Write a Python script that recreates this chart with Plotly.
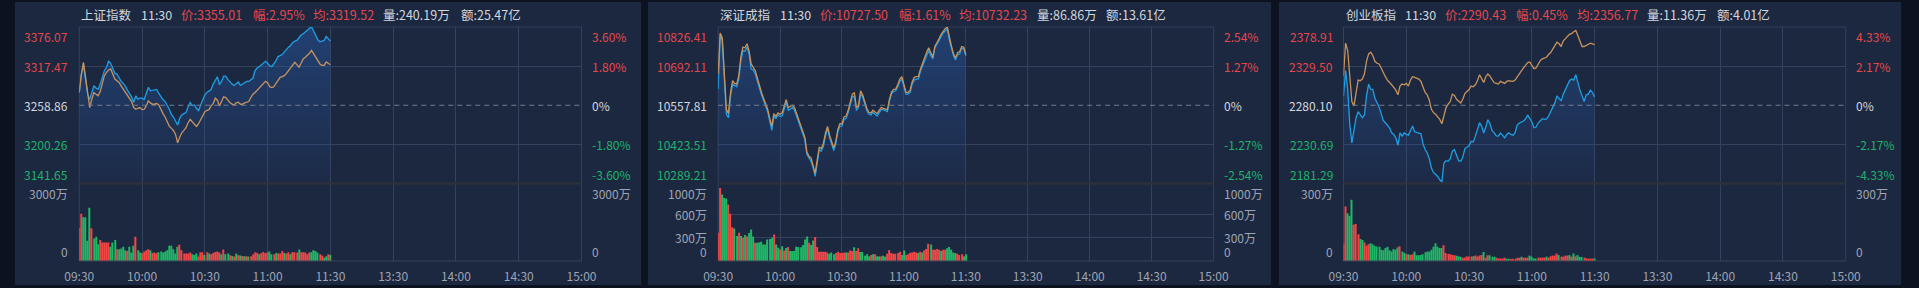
import plotly.graph_objects as go

# ---------------- data ----------------
minutes = list(range(121))  # 09:30 .. 11:30, one point per minute
x_tickvals = [0, 30, 60, 90, 120, 150, 180, 210, 240]
x_ticktext = ["09:30", "10:00", "10:30", "11:00", "11:30", "13:30", "14:00", "14:30", "15:00"]

# ---- 上证指数 ----
p1_name = "上证指数"
p1_time = "11:30"
p1_info_red = ["价:3355.01", "幅:2.95%", "均:3319.52"]
p1_info_white = ["量:240.19万", "额:25.47亿"]
p1_left = ["3376.07", "3317.47", "3258.86", "3200.26", "3141.65"]
p1_right = ["3.60%", "1.80%", "0%", "-1.80%", "-3.60%"]
p1_vol_ticks = [3000, 0]
p1_vol_text = ["3000万", "0"]
p1_price = [
    3277.97, 3305.64, 3319.72, 3295.58, 3275.46, 3267.91, 3277.97, 3288.03, 3284.51, 3283.00,
    3290.55, 3300.61, 3310.67, 3315.70, 3324.75, 3321.74, 3313.18, 3306.65, 3305.64, 3299.60,
    3294.57, 3291.56, 3287.53, 3281.50, 3276.47, 3271.44, 3262.88, 3272.94, 3267.91, 3269.42,
    3269.42, 3267.41, 3276.47, 3285.52, 3280.49, 3281.50, 3282.50, 3282.50, 3276.47, 3271.44,
    3267.41, 3264.39, 3259.36, 3252.82, 3245.28, 3241.25, 3235.22, 3229.18, 3239.24, 3244.27,
    3246.28, 3247.79, 3256.34, 3262.88, 3258.36, 3259.36, 3254.33, 3250.31, 3259.36, 3267.41,
    3274.45, 3277.97, 3280.49, 3282.50, 3290.55, 3296.59, 3301.62, 3289.54, 3294.57, 3302.62,
    3302.62, 3297.59, 3293.57, 3290.55, 3288.54, 3291.56, 3293.57, 3288.54, 3290.55, 3293.57,
    3294.57, 3294.57, 3296.59, 3299.60, 3310.67, 3314.69, 3316.71, 3319.72, 3321.74, 3324.75,
    3321.74, 3317.71, 3316.71, 3320.73, 3325.76, 3331.80, 3333.30, 3334.81, 3338.84, 3342.86,
    3345.88, 3348.39, 3352.92, 3354.93, 3355.94, 3359.96, 3363.99, 3366.00, 3368.01, 3371.03,
    3374.05, 3376.06, 3370.02, 3361.98, 3356.95, 3353.93, 3354.93, 3355.94, 3361.98, 3358.96,
    3355.01]
p1_avg = [
    3277.97, 3305.64, 3323.24, 3300.61, 3270.43, 3255.34, 3267.91, 3277.97, 3275.46, 3272.94,
    3279.48, 3293.06, 3303.12, 3308.15, 3311.68, 3313.18, 3306.65, 3298.09, 3295.58, 3293.06,
    3288.03, 3283.00, 3277.97, 3272.94, 3269.42, 3264.39, 3255.34, 3252.82, 3254.33, 3255.34,
    3252.32, 3252.82, 3257.85, 3265.40, 3262.38, 3260.37, 3260.37, 3261.38, 3259.36, 3251.31,
    3246.28, 3241.25, 3235.22, 3227.67, 3224.15, 3221.13, 3215.10, 3202.52, 3211.07, 3217.61,
    3221.13, 3225.16, 3232.70, 3237.73, 3234.21, 3230.19, 3227.17, 3231.19, 3237.73, 3245.28,
    3249.30, 3251.31, 3252.32, 3257.85, 3261.38, 3269.42, 3266.41, 3257.85, 3264.39, 3271.44,
    3270.43, 3266.41, 3262.88, 3260.37, 3259.36, 3262.38, 3263.39, 3260.37, 3260.37, 3262.38,
    3263.39, 3264.39, 3270.43, 3275.46, 3277.97, 3281.50, 3284.51, 3287.53, 3290.55, 3294.57,
    3292.56, 3286.53, 3285.52, 3286.53, 3291.56, 3296.59, 3300.61, 3301.62, 3303.12, 3306.65,
    3310.67, 3314.69, 3319.72, 3323.24, 3319.72, 3315.70, 3321.74, 3328.27, 3330.79, 3333.30,
    3336.83, 3340.85, 3335.82, 3329.78, 3324.75, 3320.73, 3318.72, 3318.72, 3323.75, 3321.74,
    3319.52]
p1_vol = [
    1278, 1826, 1695, 1695, 782, 2060, 1265, 874, 939, 652,
    809, 717, 717, 717, 717, 548, 717, 809, 456, 456,
    483, 548, 417, 391, 548, 326, 587, 939, 417, 326,
    300, 365, 417, 456, 417, 313, 326, 300, 339, 365,
    326, 365, 417, 587, 587, 456, 287, 548, 626, 417,
    287, 287, 287, 326, 261, 235, 287, 170, 339, 339,
    235, 339, 287, 261, 313, 352, 365, 326, 261, 443,
    261, 287, 222, 196, 170, 287, 222, 209, 196, 183,
    183, 170, 183, 261, 339, 313, 261, 300, 352, 300,
    326, 365, 261, 261, 313, 287, 287, 391, 313, 287,
    339, 261, 339, 339, 326, 443, 339, 339, 326, 261,
    326, 339, 417, 391, 326, 261, 209, 130, 183, 261,
    235]
p1_dir = ("rrggggrggg" "rrrrrgggrg" "gggrgggrgg" "rrrrgrrrgg" "ggggggggrr" "rrrrgggrrr"
          "grgrrrrrgr" "ggrgrgrgrg" "rgrrrrgrrr" "rggrgrrrgr" "rgrrrgrrrr" "rggggrrggr" "g")

# ---- 深证成指 ----
p2_name = "深证成指"
p2_time = "11:30"
p2_info_red = ["价:10727.50", "幅:1.61%", "均:10732.23"]
p2_info_white = ["量:86.86万", "额:13.61亿"]
p2_left = ["10826.41", "10692.11", "10557.81", "10423.51", "10289.21"]
p2_right = ["2.54%", "1.27%", "0%", "-1.27%", "-2.54%"]
p2_vol_ticks = [1000, 600, 300, 0]
p2_vol_text = ["1000万", "600万", "300万", "0"]
p2_price = [
    10613.15, 10797.63, 10780.34, 10653.51, 10526.68, 10515.15, 10590.09, 10630.45, 10624.68, 10621.23,
    10647.74, 10711.16, 10745.75, 10743.44, 10757.28, 10734.22, 10682.33, 10678.88, 10665.04, 10639.67,
    10613.15, 10593.55, 10575.11, 10552.04, 10535.90, 10503.62, 10471.33, 10520.91, 10512.84, 10524.37,
    10519.76, 10520.91, 10543.97, 10567.03, 10540.51, 10543.97, 10549.74, 10540.51, 10520.91, 10494.39,
    10478.25, 10459.80, 10440.20, 10388.32, 10374.48, 10365.26, 10344.50, 10313.37, 10359.49, 10405.61,
    10399.85, 10417.14, 10451.73, 10478.25, 10445.97, 10422.91, 10402.15, 10425.21, 10466.72, 10486.32,
    10486.32, 10509.38, 10512.84, 10532.44, 10561.27, 10586.64, 10590.09, 10540.51, 10549.74, 10595.86,
    10586.64, 10561.27, 10540.51, 10526.68, 10524.37, 10533.60, 10526.68, 10520.91, 10532.44, 10542.82,
    10542.82, 10538.21, 10535.90, 10572.80, 10598.17, 10605.08, 10607.39, 10621.23, 10639.67, 10647.74,
    10618.92, 10595.86, 10595.86, 10601.62, 10630.45, 10644.29, 10647.74, 10647.74, 10674.26, 10693.86,
    10708.85, 10731.91, 10745.75, 10728.45, 10716.92, 10754.97, 10768.81, 10780.34, 10791.87, 10805.71,
    10812.62, 10820.69, 10782.65, 10754.97, 10728.45, 10713.47, 10731.91, 10734.22, 10754.97, 10751.51,
    10727.50]
p2_avg = [
    10665.04, 10805.71, 10789.56, 10665.04, 10543.97, 10528.98, 10601.62, 10641.98, 10632.76, 10630.45,
    10659.27, 10722.69, 10757.28, 10754.97, 10768.81, 10743.44, 10699.63, 10688.10, 10676.57, 10651.20,
    10624.68, 10601.62, 10582.02, 10561.27, 10543.97, 10512.84, 10486.32, 10528.98, 10519.76, 10531.29,
    10526.68, 10531.29, 10554.35, 10577.41, 10549.74, 10554.35, 10557.81, 10549.74, 10528.98, 10503.62,
    10485.17, 10466.72, 10448.27, 10397.54, 10382.55, 10376.79, 10353.73, 10323.75, 10371.02, 10413.68,
    10409.07, 10427.52, 10462.11, 10485.17, 10455.19, 10432.13, 10411.38, 10434.44, 10474.79, 10494.39,
    10494.39, 10517.45, 10520.91, 10540.51, 10570.49, 10595.86, 10600.47, 10549.74, 10556.66, 10607.39,
    10593.55, 10568.19, 10547.43, 10533.60, 10531.29, 10540.51, 10533.60, 10528.98, 10540.51, 10549.74,
    10547.43, 10543.97, 10542.82, 10578.56, 10602.78, 10612.00, 10613.15, 10628.14, 10647.74, 10655.82,
    10628.14, 10602.78, 10601.62, 10609.70, 10637.37, 10653.51, 10655.82, 10655.82, 10681.18, 10701.94,
    10716.92, 10739.98, 10754.97, 10738.83, 10722.69, 10759.59, 10775.73, 10786.10, 10801.09, 10812.62,
    10820.69, 10826.46, 10789.56, 10761.89, 10734.22, 10720.38, 10738.83, 10741.14, 10759.59, 10757.28,
    10732.23]
p2_vol = [
    364, 943, 857, 814, 806, 729, 609, 437, 420, 321,
    364, 321, 300, 334, 317, 360, 407, 317, 236, 236,
    240, 249, 214, 214, 279, 283, 300, 343, 214, 171,
    150, 189, 137, 167, 180, 129, 129, 129, 184, 180,
    176, 206, 279, 317, 236, 206, 266, 309, 180, 120,
    120, 120, 120, 111, 94, 111, 86, 103, 120, 103,
    103, 111, 111, 111, 137, 129, 176, 129, 163, 116,
    116, 69, 86, 60, 77, 86, 86, 60, 60, 60,
    69, 56, 94, 141, 103, 94, 94, 103, 120, 77,
    137, 77, 86, 107, 111, 120, 111, 103, 120, 111,
    137, 154, 223, 214, 146, 146, 154, 146, 129, 146,
    146, 163, 180, 146, 111, 103, 94, 77, 86, 60,
    86]
p2_dir = ("rrgggrrrgg" "rgrgrgggrg" "gggggggrgg" "rgrgrggggg" "ggggrggrrr" "rrrrgggrrr"
          "rrgrrrgrrg" "ggggrgrggr" "ggrrrrrrrg" "grrrrrrgrg" "rrrgrrrrgr" "rgggggrrrg" "g")

# ---- 创业板指 ----
p3_name = "创业板指"
p3_time = "11:30"
p3_info_red = ["价:2290.43", "幅:0.45%", "均:2356.77"]
p3_info_white = ["量:11.36万", "额:4.01亿"]
p3_left = ["2378.91", "2329.50", "2280.10", "2230.69", "2181.29"]
p3_right = ["4.33%", "2.17%", "0%", "-2.17%", "-4.33%"]
p3_vol_ticks = [300, 0]
p3_vol_text = ["300万", "0"]
p3_price = [
    2291.97, 2323.77, 2300.45, 2255.93, 2232.61, 2249.57, 2264.41, 2272.04, 2268.65, 2264.41,
    2267.80, 2291.97, 2306.81, 2300.45, 2300.03, 2289.00, 2283.49, 2277.98, 2269.50, 2261.02,
    2258.05, 2255.08, 2251.69, 2245.33, 2243.21, 2238.97, 2229.64, 2245.33, 2241.09, 2245.33,
    2243.21, 2242.36, 2248.30, 2253.81, 2246.60, 2245.33, 2244.91, 2244.06, 2231.34, 2224.13,
    2219.89, 2212.68, 2200.81, 2195.30, 2193.18, 2190.21, 2185.97, 2183.00, 2207.17, 2210.14,
    2209.29, 2212.68, 2222.01, 2224.13, 2216.92, 2210.14, 2209.29, 2214.38, 2225.40, 2227.10,
    2228.80, 2234.73, 2233.88, 2241.09, 2250.84, 2258.05, 2253.81, 2244.91, 2252.54, 2261.87,
    2256.78, 2248.30, 2245.33, 2241.52, 2241.09, 2244.91, 2242.36, 2238.97, 2243.21, 2245.33,
    2243.21, 2242.36, 2245.33, 2255.08, 2257.63, 2258.48, 2260.17, 2262.72, 2267.80, 2263.56,
    2259.32, 2251.69, 2252.54, 2257.63, 2261.02, 2263.14, 2262.29, 2262.72, 2266.53, 2272.04,
    2279.25, 2283.07, 2291.97, 2289.00, 2285.61, 2294.09, 2300.03, 2304.69, 2311.05, 2313.17,
    2311.90, 2318.68, 2307.66, 2299.18, 2291.97, 2284.76, 2293.24, 2294.09, 2299.18, 2296.21,
    2290.43]
p3_avg = [
    2317.41, 2358.54, 2349.21, 2315.29, 2284.76, 2279.25, 2298.33, 2311.90, 2311.05, 2313.17,
    2319.53, 2335.64, 2344.97, 2347.09, 2342.85, 2335.64, 2333.10, 2332.25, 2327.16, 2320.38,
    2316.14, 2311.90, 2309.36, 2305.96, 2302.57, 2299.18, 2293.24, 2304.27, 2306.81, 2305.96,
    2307.66, 2304.27, 2311.90, 2316.14, 2315.29, 2314.44, 2313.17, 2310.20, 2302.57, 2296.21,
    2293.24, 2286.46, 2275.01, 2270.77, 2268.65, 2266.11, 2262.29, 2256.78, 2266.53, 2277.13,
    2281.37, 2284.76, 2294.09, 2292.40, 2287.73, 2284.76, 2283.07, 2287.73, 2294.94, 2297.48,
    2300.03, 2304.27, 2303.42, 2305.96, 2311.05, 2318.68, 2314.44, 2308.93, 2316.14, 2319.53,
    2316.99, 2312.75, 2308.51, 2307.66, 2306.81, 2310.20, 2309.36, 2307.66, 2310.20, 2311.05,
    2310.63, 2310.20, 2311.90, 2316.14, 2320.38, 2323.77, 2327.16, 2330.56, 2333.95, 2334.80,
    2329.71, 2326.32, 2327.16, 2331.40, 2336.49, 2338.61, 2339.88, 2340.73, 2344.12, 2346.67,
    2350.91, 2355.57, 2359.81, 2357.69, 2354.30, 2361.08, 2364.48, 2367.02, 2369.56, 2370.41,
    2372.96, 2374.65, 2367.87, 2361.08, 2354.30, 2354.30, 2356.00, 2357.69, 2358.54, 2357.69,
    2356.77]
p3_vol = [
    68, 211, 185, 175, 237, 140, 143, 104, 85, 81,
    72, 59, 65, 69, 65, 59, 56, 55, 44, 42,
    50, 55, 42, 37, 46, 44, 52, 57, 37, 31,
    26, 26, 23, 26, 37, 22, 22, 23, 26, 34,
    37, 37, 44, 55, 69, 55, 50, 50, 61, 31,
    27, 26, 23, 22, 20, 18, 16, 13, 13, 17,
    17, 17, 18, 21, 17, 21, 23, 35, 13, 22,
    22, 16, 16, 13, 10, 10, 10, 13, 9, 9,
    8, 9, 9, 13, 13, 16, 13, 13, 13, 21,
    17, 10, 10, 13, 13, 13, 13, 17, 13, 18,
    21, 21, 29, 23, 17, 17, 21, 21, 23, 17,
    29, 18, 23, 16, 16, 13, 10, 9, 9, 9,
    10]
p3_dir = ("rrgggrrrgg" "rrrggggggg" "gggggggrgg" "rgrrgggggg" "ggggggggrr" "rrrrgggrrr"
          "rrgrrrrgrr" "gggrrrrrgg" "rrrrrgrrrg" "gggrrrrgrr" "rrrgrrrrgr" "grgggrrrrr" "g")

# ---------------- style / layout ----------------
W, H = 1919, 288
BG_OUT = "#0c1220"
BG_PANEL = "#1c2740"
GRID = "#33415b"
SEP = "#2c313c"
BLUE = "#1e9fe4"
ORANGE = "#c8935c"
UP = "#f04646"
DOWN = "#1fb866"
TXT = "#d3d7df"
TXT_RED = "#e5484b"
TXT_GREEN = "#1fb36c"
TXT_GRAY = "#9ea5b3"
FONT = "Noto Sans CJK SC, Noto Sans, sans-serif"

PRICE_TOP, PRICE_BOT = 27, 183.5
VOL_TOP, VOL_BOT = 183.5, 261
PANEL_TOP, PANEL_BOT = 2, 285
TITLE_Y = 14

panels = [
    dict(name=p1_name, time=p1_time, red=p1_info_red, white=p1_info_white, left=p1_left, right=p1_right,
         vt=p1_vol_ticks, vtx=p1_vol_text, price=p1_price, avg=p1_avg, vol=p1_vol, dirs=p1_dir,
         box=(0, 636), plot=(65.3, 575.5),
         title_dx=[0, 60.4, 101.2, 174.3, 235.1, 306.9, 385.3]),
    dict(name=p2_name, time=p2_time, red=p2_info_red, white=p2_info_white, left=p2_left, right=p2_right,
         vt=p2_vol_ticks, vtx=p2_vol_text, price=p2_price, avg=p2_avg, vol=p2_vol, dirs=p2_dir,
         box=(643, 1276), plot=(714.3, 1217.6),
         title_dx=[0, 60.4, 101.2, 181.6, 242.4, 322.4, 392.2]),
    dict(name=p3_name, time=p3_time, red=p3_info_red, white=p3_info_white, left=p3_left, right=p3_right,
         vt=p3_vol_ticks, vtx=p3_vol_text, price=p3_price, avg=p3_avg, vol=p3_vol, dirs=p3_dir,
         box=(1284, 1916), plot=(1349.6, 1859.8),
         title_dx=[0, 60.0, 100.8, 173.5, 234.7, 306.5, 377.6]),
]


def fx(px):
    return px / W


def fy(py):
    return 1 - py / H


def sfx(n):
    return "" if n == 1 else str(n)


fig = go.Figure()
layout = dict(
    width=W, height=H, margin=dict(l=0, r=0, t=0, b=0),
    paper_bgcolor=BG_OUT, plot_bgcolor="rgba(0,0,0,0)",
    showlegend=False, font=dict(family=FONT, size=12, color=TXT_GRAY),
    hovermode=False,
)
shapes = []
annotations = []

for k, p in enumerate(panels):
    na, nv = 2 * k + 1, 2 * k + 2
    xa, ya = "x" + sfx(na), "y" + sfx(na)
    xv, yv = "x" + sfx(nv), "y" + sfx(nv)
    levels = [float(v) for v in p["left"]]
    ytop, ybase, ybot = levels[0], levels[2], levels[-1]
    xdom = [fx(p["plot"][0]), fx(p["plot"][1])]

    # panel background
    shapes.append(dict(type="rect", xref="paper", yref="paper", layer="below",
                       x0=fx(p["box"][0]), x1=fx(p["box"][1]), y0=fy(PANEL_BOT), y1=fy(PANEL_TOP),
                       fillcolor=BG_PANEL, line=dict(width=0)))

    # price + average lines
    fig.add_trace(go.Scatter(
        x=minutes, y=p["price"], mode="lines", xaxis=xa, yaxis=ya,
        line=dict(color=BLUE, width=1.3), fill="tozeroy",
        fillgradient=dict(type="vertical",
                          colorscale=[[0, "rgba(40,95,175,0.06)"], [1, "rgba(40,95,175,0.45)"]],
                          start=ybot, stop=ytop)))
    fig.add_trace(go.Scatter(
        x=minutes, y=p["avg"], mode="lines", xaxis=xa, yaxis=ya,
        line=dict(color=ORANGE, width=1.3)))

    # volume bars
    fig.add_trace(go.Bar(
        x=minutes, y=p["vol"], xaxis=xv, yaxis=yv, width=0.55,
        marker=dict(color=[UP if d == "r" else DOWN for d in p["dirs"]], line=dict(width=0))))

    common_x = dict(domain=xdom, range=[0, 240], tickvals=x_tickvals, showgrid=True,
                    gridcolor=GRID, gridwidth=1, zeroline=False, showline=False, ticks="",
                    fixedrange=True)
    layout["xaxis" + sfx(na)] = dict(common_x, showticklabels=False, anchor=ya)
    layout["xaxis" + sfx(nv)] = dict(common_x, showticklabels=True, ticktext=x_ticktext,
                                     tickfont=dict(size=12, color=TXT_GRAY), anchor=yv,
                                     ticklabelstandoff=7)
    layout["yaxis" + sfx(na)] = dict(domain=[fy(PRICE_BOT), fy(PRICE_TOP)], range=[ybot, ytop],
                                     tickvals=[levels[0], levels[1], levels[3]], showgrid=True,
                                     gridcolor=GRID, zeroline=False, showticklabels=False,
                                     ticks="", anchor=xa, fixedrange=True)
    layout["yaxis" + sfx(nv)] = dict(domain=[fy(VOL_BOT), fy(VOL_TOP)],
                                     range=[0, p["vt"][0]],
                                     tickvals=p["vt"][1:-1], showgrid=True, gridcolor=GRID,
                                     zeroline=False, showticklabels=False, ticks="",
                                     anchor=xv, fixedrange=True)

    # borders / separators
    shapes.append(dict(type="line", xref=xa + " domain", yref=ya, x0=0, x1=1, y0=ybase, y1=ybase,
                       line=dict(color="#737d90", width=1, dash="5px,4px")))
    shapes.append(dict(type="line", xref=xa + " domain", yref="paper", x0=0, x1=1,
                       y0=fy(PRICE_TOP), y1=fy(PRICE_TOP), layer="below",
                       line=dict(color=GRID, width=1)))
    for xe in (0, 1):
        shapes.append(dict(type="line", xref=xa + " domain", yref="paper", x0=xe, x1=xe,
                           y0=fy(VOL_BOT), y1=fy(PRICE_TOP), layer="below",
                           line=dict(color=GRID, width=1)))
    shapes.append(dict(type="line", xref=xa + " domain", yref="paper", x0=0, x1=1,
                       y0=fy(PRICE_BOT), y1=fy(PRICE_BOT), line=dict(color=SEP, width=2.5)))
    shapes.append(dict(type="line", xref=xa + " domain", yref="paper", x0=0, x1=1,
                       y0=fy(VOL_BOT), y1=fy(VOL_BOT), line=dict(color="#394256", width=1.2)))

    # price axis labels
    lab_cols = [TXT_RED, TXT_RED, TXT, TXT_GREEN, TXT_GREEN]
    anchors = ["top", "middle", "middle", "middle", "bottom"]
    for i, (lv, lt, rt) in enumerate(zip(levels, p["left"], p["right"])):
        annotations.append(dict(xref=xa + " domain", yref=ya, x=0, y=lv, text=lt, showarrow=False,
                                xanchor="right", yanchor=anchors[i], xshift=-10, borderpad=0,
                                font=dict(size=12, color=lab_cols[i], family=FONT)))
        annotations.append(dict(xref=xa + " domain", yref=ya, x=1, y=lv, text=rt, showarrow=False,
                                xanchor="left", yanchor=anchors[i], xshift=9, borderpad=0,
                                font=dict(size=12, color=lab_cols[i], family=FONT)))
    # volume axis labels
    nvt = len(p["vt"])
    for i, (vv, vtxt) in enumerate(zip(p["vt"], p["vtx"])):
        ya_anchor = "top" if i == 0 else ("bottom" if i == nvt - 1 else "middle")
        for xe, xan, xs in ((0, "right", -10), (1, "left", 9)):
            annotations.append(dict(xref=xv + " domain", yref=yv, x=xe, y=vv, text=vtxt,
                                    showarrow=False, xanchor=xan, yanchor=ya_anchor, xshift=xs,
                                    borderpad=0,
                                    font=dict(size=12, color=TXT_GRAY, family=FONT)))

    # title line: name, time, red info items, white info items
    items = ([(p["name"], TXT), (p["time"], TXT)]
             + [(t, TXT_RED) for t in p["red"]]
             + [(t, TXT) for t in p["white"]])
    for (txt, col), dx in zip(items, p["title_dx"]):
        annotations.append(dict(xref="paper", yref="paper", x=fx(p["plot"][0] + dx), y=fy(TITLE_Y),
                                text=txt, showarrow=False, xanchor="left", yanchor="middle",
                                font=dict(size=12.5, color=col, family=FONT)))

layout["shapes"] = shapes
layout["annotations"] = annotations
fig.update_layout(**layout)
fig.write_html("out.html")
